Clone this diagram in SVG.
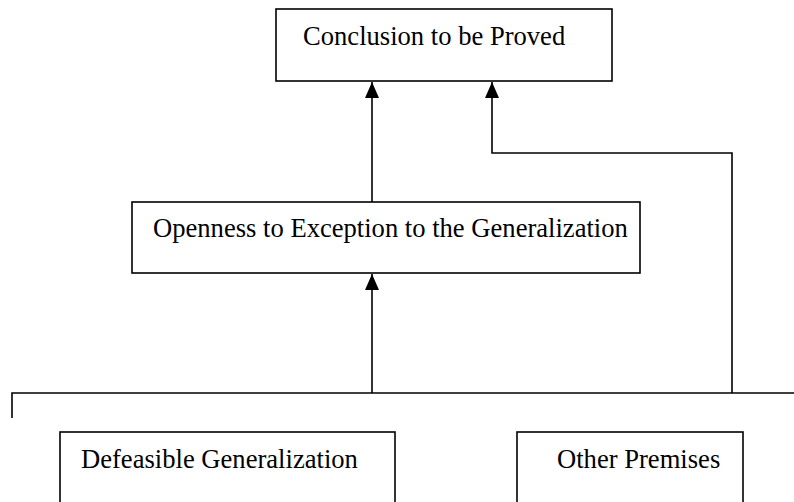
<svg xmlns="http://www.w3.org/2000/svg" width="794" height="502" viewBox="0 0 794 502">
<defs>
<style>
.box{fill:#fff;stroke:#000;stroke-width:1.6}
.t{font-family:"Liberation Serif","Times New Roman",serif;font-size:26.6px;fill:#000}
.ln{fill:none;stroke:#000;stroke-width:1.6}
</style>
<marker id="ah" viewBox="0 0 16 14" refX="16" refY="7" markerWidth="16" markerHeight="14" markerUnits="userSpaceOnUse" orient="auto">
<path d="M0,0 L16,7 L0,14 Z" fill="#000"/>
</marker>
</defs>
<rect width="794" height="502" fill="#fff"/>
<g id="connectors">
<path class="ln" d="M372,202 L372,82" marker-end="url(#ah)"/>
<path class="ln" d="M732,393 L732,153 L492,153 L492,82" marker-end="url(#ah)"/>
<path class="ln" d="M372,393 L372,274" marker-end="url(#ah)"/>
<path class="ln" d="M12,418 L12,393 L794,393"/>
</g>
<g id="conclusion">
<rect class="box" x="276" y="9" width="336" height="72"/>
<text class="t" x="303" y="45">Conclusion to be Proved</text>
</g>
<g id="openness">
<rect class="box" x="132" y="202" width="508" height="71"/>
<text class="t" x="153" y="237">Openness to Exception to the Generalization</text>
</g>
<g id="defeasible">
<rect class="box" x="60" y="432" width="335" height="90"/>
<text class="t" x="81" y="468">Defeasible Generalization</text>
</g>
<g id="other">
<rect class="box" x="517" y="432" width="226" height="90"/>
<text class="t" x="557" y="468">Other Premises</text>
</g>
</svg>
